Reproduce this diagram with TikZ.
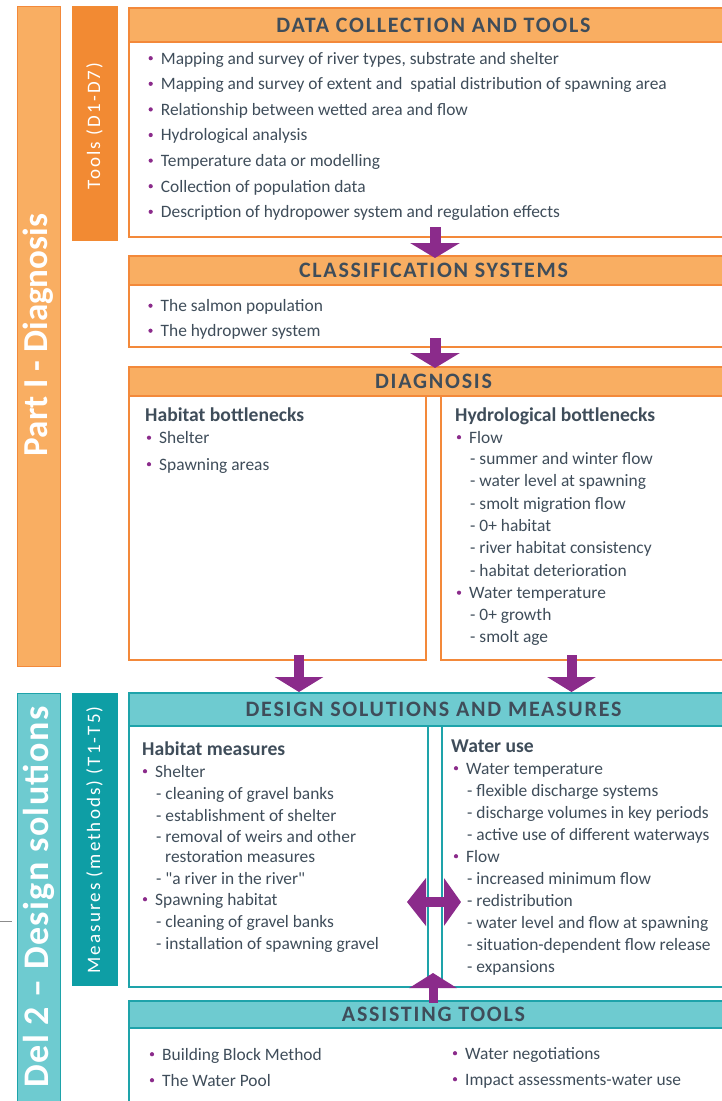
\documentclass[tikz,border=0pt]{standalone}
\usepackage{fontspec}
\setmainfont{Carlito}
\newfontfamily\hdfont{Carlito}[LetterSpace=8]
\newfontfamily\tlfont{Carlito}[LetterSpace=11]
\newfontfamily\dlfont{Carlito}[LetterSpace=4]
\usetikzlibrary{arrows.meta,calc}
\definecolor{orL}{HTML}{F9AE62}
\definecolor{orB}{HTML}{F3893A}
\definecolor{orD}{HTML}{F28A33}
\definecolor{tlL}{HTML}{6ECBD0}
\definecolor{tlB}{HTML}{1EA3AA}
\definecolor{tlD}{HTML}{0E9EA5}
\definecolor{pur}{HTML}{8B2B8B}
\definecolor{txt}{HTML}{3F4D5A}
\newcommand\myBullet[4]{\node[dot] (#1d) at ({#2-10},{#3-5.8}) {};\node[item] (#1) at (#2,#3) {#4};}
\newcommand\myLine[4]{\node[item] (#1) at (#2,#3) {#4};}
\newcommand\myQuote{\XeTeXglyph\XeTeXcharglyph"0022\relax}
\begin{document}
\begin{tikzpicture}[x=1pt,y=-1pt,
  box/.style={rectangle, inner sep=0, outer sep=0, anchor=north west, line width=1.4pt},
  hdO/.style={box, fill=orL, draw=orB},
  bdO/.style={box, fill=white, draw=orB},
  hdT/.style={box, fill=tlL, draw=tlB},
  bdT/.style={box, fill=white, draw=tlB},
  title/.style={text=txt, font=\hdfont\bfseries\fontsize{22}{22}\selectfont},
  item/.style={anchor=base west, inner sep=0, text=txt, font=\fontsize{17.4}{19}\selectfont},
  subh/.style={item, font=\bfseries\fontsize{19.6}{20}\selectfont},
  dot/.style={circle, fill=pur, inner sep=0, minimum size=4.2},
  sideT/.style={rotate=90, text=white, inner sep=0, font=\bfseries\fontsize{35}{35}\selectfont},
  toolT/.style={rotate=90, text=white, inner sep=0, font=\tlfont\fontsize{19}{19}\selectfont},
  fat/.style={draw=pur, line width=11pt, -{Triangle[width=49pt,length=15pt]}},
  fatboth/.style={draw=pur, line width=10pt, {Triangle[width=47pt,length=19pt]}-{Triangle[width=47pt,length=17pt]}},
]
\useasboundingbox (0,0) rectangle (722,1101);
\fill[white] (0,0) rectangle (722,1101);

% side bars
\node[box, fill=orL, draw=orB, line width=1pt, minimum width=43, minimum height=660] (part1) at (17,6) {};
\node[box, fill=orD, draw=orD, line width=1pt, minimum width=45, minimum height=234] (tools) at (72,6) {};
\node[box, fill=tlL, draw=tlB, line width=1pt, minimum width=43, minimum height=420] (part2) at (17,693) {};
\node[box, fill=tlD, draw=tlD, line width=1pt, minimum width=45, minimum height=292] (meas) at (72,693) {};
\node[sideT] (part1t) at (38.5,335) {Part I - Diagnosis};
\node[sideT, font=\dlfont\bfseries\fontsize{36}{36}\selectfont] (part2t) at (38.5,897) {Del 2 – Design solutions};
\node[toolT] (toolst) at (94.5,126) {Tools (D1-D7)};
\node[toolT] (meast) at (94.5,840) {Measures (methods) (T1-T5)};
\coordinate (g1) at (0,921);
\coordinate (g2) at (12,921);
\draw[black!45, line width=0.8pt] (g1) -- (g2);

% data collection
\node[bdO, minimum width=609, minimum height=195] (dataB) at (129,42) {};
\node[hdO, minimum width=609, minimum height=34, title] (data) at (129,8) {DATA COLLECTION AND TOOLS};
\myBullet{d1}{160.7}{64}{Mapping and survey of river types, substrate and shelter}
\myBullet{d2}{160.7}{89.6}{Mapping and survey of extent and\ \ spatial distribution of spawning area}
\myBullet{d3}{160.7}{115.2}{Relationship between wetted area and flow}
\myBullet{d4}{160.7}{140.8}{Hydrological analysis}
\myBullet{d5}{160.7}{166.4}{Temperature data or modelling}
\myBullet{d6}{160.7}{192}{Collection of population data}
\myBullet{d7}{160.7}{217.6}{Description of hydropower system and regulation effects}

% classification
\node[bdO, minimum width=609, minimum height=62] (clsB) at (129,285) {};
\node[hdO, minimum width=609, minimum height=29, title] (cls) at (129,256) {CLASSIFICATION SYSTEMS};
\myBullet{c1}{160.5}{311.5}{The salmon population}
\myBullet{c2}{160.5}{336.5}{The hydropwer system}

% diagnosis
\node[bdO, minimum width=297, minimum height=264] (diaL) at (129,396) {};
\node[bdO, minimum width=297, minimum height=264] (diaR) at (441,396) {};
\node[hdO, minimum width=609, minimum height=29, title] (dia) at (129,367) {DIAGNOSIS};
\node[subh] (hb) at (145,421.5) {Habitat bottlenecks};
\myBullet{hb1}{159}{443.5}{Shelter}
\myBullet{hb2}{159}{470}{Spawning areas}
\node[subh] (hy) at (455,421) {Hydrological bottlenecks};
\myBullet{hy1}{469}{443}{Flow}
\myLine{hy2}{470}{464.5}{- summer and winter flow}
\myLine{hy3}{470}{486.8}{- water level at spawning}
\myLine{hy4}{470}{509.1}{- smolt migration flow}
\myLine{hy5}{470}{531.4}{- 0+ habitat}
\myLine{hy6}{470}{553.7}{- river habitat consistency}
\myLine{hy7}{470}{576}{- habitat deterioration}
\myBullet{hy8}{469}{598.5}{Water temperature}
\myLine{hy9}{470}{620.5}{- 0+ growth}
\myLine{hy10}{470}{642.5}{- smolt age}

% design solutions
\node[bdT, minimum width=299, minimum height=261] (desL) at (129,726) {};
\node[bdT, minimum width=296, minimum height=261] (desR) at (442,726) {};
\node[hdT, minimum width=609, minimum height=33, title] (des) at (129,693) {DESIGN SOLUTIONS AND MEASURES};
\node[subh] (hm) at (142,755) {Habitat measures};
\myBullet{hm1}{155}{777}{Shelter}
\myLine{hm2}{156}{799}{- cleaning of gravel banks}
\myLine{hm3}{156}{821}{- establishment of shelter}
\myLine{hm4}{156}{842}{- removal of weirs and other}
\myLine{hm5}{165}{862}{restoration measures}
\myLine{hm6}{156}{884}{- \myQuote a river in the river\myQuote}
\myBullet{hm7}{155}{905}{Spawning habitat}
\myLine{hm8}{156}{927}{- cleaning of gravel banks}
\myLine{hm9}{156}{949}{- installation of spawning gravel}
\node[subh] (wu) at (451,752) {Water use};
\myBullet{wu1}{466}{774}{Water temperature}
\myLine{wu2}{467}{796}{- flexible discharge systems}
\myLine{wu3}{467}{818}{- discharge volumes in key periods}
\myLine{wu4}{467}{840}{- active use of different waterways}
\myBullet{wu5}{466}{862}{Flow}
\myLine{wu6}{467}{884}{- increased minimum flow}
\myLine{wu7}{467}{906}{- redistribution}
\myLine{wu8}{467}{928}{- water level and flow at spawning}
\myLine{wu9}{467}{950}{- situation-dependent flow release}
\myLine{wu10}{467}{972}{- expansions}

% assisting tools
\node[bdT, minimum width=609, minimum height=100] (astB) at (129,1028) {};
\node[hdT, minimum width=609, minimum height=27, title] (ast) at (129,1001) {ASSISTING TOOLS};
\myBullet{a1}{162}{1060}{Building Block Method}
\myBullet{a2}{162}{1086}{The Water Pool}
\myBullet{a3}{465}{1059}{Water negotiations}
\myBullet{a4}{465}{1085}{Impact assessments-water use}

% arrows
\draw[fat] ($(dataB.south)+(1.5,-10)$) -- ($(cls.north)+(1.5,2)$);
\draw[fat] ($(clsB.south)+(1.5,-9)$) -- ($(dia.north)+(1.5,1)$);
\coordinate (aL) at ($(diaL.south)+(21.5,-5)$);
\coordinate (aR) at ($(diaR.south)+(-18,-5)$);
\draw[fat, line width=10pt, -{Triangle[width=48pt,length=15pt]}] (aL) -- ($(aL |- des.north)+(0,-1)$);
\draw[fat, line width=10pt, -{Triangle[width=48pt,length=15pt]}] (aR) -- ($(aR |- des.north)+(0,-1)$);
\coordinate (up) at ($(ast.north)+(-0.5,2)$);
\draw[fat, line width=9pt, -{Triangle[width=47pt,length=15pt]}] (up) -- ($(desL.south east)+(5,-14)$);
\coordinate (lr1) at ($(desL.south east)+(-21,-85)$);
\coordinate (lr2) at ($(desR.south west)+(19,-85)$);
\draw[fatboth] (lr1) -- (lr2);
\end{tikzpicture}
\end{document}
